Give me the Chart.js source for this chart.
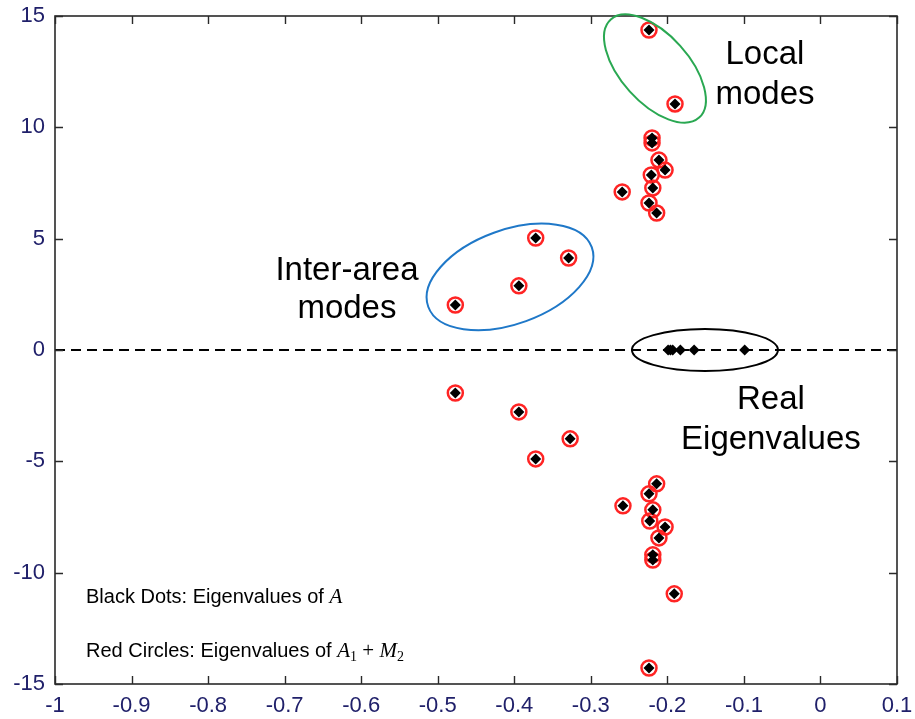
<!DOCTYPE html>
<html>
<head>
<meta charset="utf-8">
<script src="https://cdn.jsdelivr.net/npm/chart.js@4.4.1/dist/chart.umd.min.js"></script>
<style>
  html, body { margin: 0; padding: 0; background: #fff; }
  canvas { display: block; }
</style>
</head>
<body>
<canvas id="eigChart" width="915" height="719"></canvas>
<script>
// Complex eigenvalues (shared by A and A1 + M2): real and imaginary parts
const complexRe = [-0.224, -0.190, -0.220, -0.220, -0.211, -0.203, -0.221, -0.219, -0.259, -0.224, -0.214,
                   -0.372, -0.329, -0.394, -0.477,
                   -0.477, -0.394, -0.327, -0.372,
                   -0.214, -0.224, -0.258, -0.219, -0.223, -0.203, -0.211, -0.219, -0.219, -0.191, -0.224];
const complexIm = [14.37, 11.05, 9.52, 9.30, 8.53, 8.08, 7.86, 7.28, 7.10, 6.60, 6.15,
                   5.03, 4.13, 2.88, 2.02,
                   -1.93, -2.78, -3.99, -4.89,
                   -6.01, -6.46, -7.00, -7.18, -7.68, -7.95, -8.44, -9.20, -9.43, -10.95, -14.28];

// Purely real eigenvalues of A (only black dots)
const realRe = [-0.199, -0.196, -0.193, -0.183, -0.165, -0.099];
const realIm = [0, 0, 0, 0, 0, 0];

// Axis ticks
const xTicks = [-1, -0.9, -0.8, -0.7, -0.6, -0.5, -0.4, -0.3, -0.2, -0.1, 0, 0.1];
const yTicks = [-15, -10, -5, 0, 5, 10, 15];

// Dashed zero line
const zeroLineX = [-1, 0.1];
const zeroLineY = [0, 0];

function toPoints(xs, ys) {
    return xs.map((x, i) => ({ x: x, y: ys[i] }));
}

// Ellipses drawn around groups of modes (center in data units, radii in px)
const ellipses = [
    { x: -0.2162, y: 12.64, rx: 66, ry: 34, angle: 48, color: '#2aa852' },
    { x: -0.4056, y: 3.28, rx: 87, ry: 47, angle: -20, color: '#1f78c8' },
    { x: -0.1509, y: 0, rx: 73, ry: 21, angle: 0, color: '#000000' }
];

// Big labels inside the plot
const labels = [
    { text: 'Local', x: -0.0725, y: 12.84 },
    { text: 'modes', x: -0.0725, y: 11.05 },
    { text: 'Inter-area', x: -0.6186, y: 3.15 },
    { text: 'modes', x: -0.6186, y: 1.44 },
    { text: 'Real', x: -0.0647, y: -2.65 },
    { text: 'Eigenvalues', x: -0.0647, y: -4.44 }
];

const TEXT_FONT = '"Liberation Sans", Arial, sans-serif';
const MATH_FONT = '"Liberation Serif", "Times New Roman", serif';

// Draws a run of [text, style] pieces left to right from (x, y)
function drawRuns(ctx, x, y, runs) {
    runs.forEach(r => {
        ctx.font = r.font;
        ctx.fillText(r.text, x, y + (r.dy || 0));
        x += ctx.measureText(r.text).width;
    });
}

const annotations = {
    id: 'annotations',
    afterDatasetsDraw(chart) {
        const ctx = chart.ctx;
        const xs = chart.scales.x, ys = chart.scales.y;
        const a = chart.chartArea;
        ctx.save();

        // frame
        ctx.strokeStyle = '#2a2a2a';
        ctx.lineWidth = 1.6;
        ctx.strokeRect(a.left, a.top, a.right - a.left, a.bottom - a.top);

        // inward ticks on all four sides
        ctx.lineWidth = 1.4;
        ctx.beginPath();
        xTicks.forEach(v => {
            const p = Math.round(xs.getPixelForValue(v)) + 0.5;
            ctx.moveTo(p, a.bottom); ctx.lineTo(p, a.bottom - 8);
            ctx.moveTo(p, a.top); ctx.lineTo(p, a.top + 8);
        });
        yTicks.forEach(v => {
            const p = Math.round(ys.getPixelForValue(v)) + 0.5;
            ctx.moveTo(a.left, p); ctx.lineTo(a.left + 8, p);
            ctx.moveTo(a.right, p); ctx.lineTo(a.right - 8, p);
        });
        ctx.stroke();

        // ellipses
        ctx.lineWidth = 2;
        ellipses.forEach(e => {
            ctx.strokeStyle = e.color;
            ctx.beginPath();
            ctx.ellipse(xs.getPixelForValue(e.x), ys.getPixelForValue(e.y), e.rx, e.ry,
                e.angle * Math.PI / 180, 0, Math.PI * 2);
            ctx.stroke();
        });

        // labels
        ctx.fillStyle = '#000';
        ctx.textAlign = 'center';
        ctx.textBaseline = 'alphabetic';
        ctx.font = '33px ' + TEXT_FONT;
        labels.forEach(l => {
            ctx.fillText(l.text, xs.getPixelForValue(l.x), ys.getPixelForValue(l.y));
        });

        // legend notes
        ctx.textAlign = 'left';
        const lx = xs.getPixelForValue(-0.9595);
        const body = '20px ' + TEXT_FONT;
        const math = 'italic 21px ' + MATH_FONT;
        const sub = '14px ' + MATH_FONT;
        drawRuns(ctx, lx, ys.getPixelForValue(-11.36), [
            { text: 'Black Dots: Eigenvalues of ', font: body },
            { text: 'A', font: math }
        ]);
        drawRuns(ctx, lx, ys.getPixelForValue(-13.78), [
            { text: 'Red Circles: Eigenvalues of ', font: body },
            { text: 'A', font: math },
            { text: '1', font: sub, dy: 4 },
            { text: ' + ', font: '21px ' + MATH_FONT },
            { text: 'M', font: math },
            { text: '2', font: sub, dy: 4 }
        ]);
        ctx.restore();
    }
};

const tickFont = { family: TEXT_FONT, size: 22 };
const tickColor = '#20206a';

new Chart(document.getElementById('eigChart'), {
    type: 'scatter',
    data: {
        datasets: [
            {
                label: 'Eigenvalues of A',
                data: toPoints(complexRe.concat(realRe), complexIm.concat(realIm)),
                pointStyle: 'rectRot',
                pointRadius: 5.5,
                backgroundColor: '#000',
                borderColor: '#000',
                borderWidth: 0,
                order: 0
            },
            {
                label: 'Eigenvalues of A1 + M2',
                data: toPoints(complexRe, complexIm),
                pointStyle: 'circle',
                pointRadius: 7.5,
                backgroundColor: 'rgba(255,255,255,0)',
                borderColor: '#ff2424',
                borderWidth: 2.5,
                order: 1
            },
            {
                type: 'line',
                label: 'zero',
                data: toPoints(zeroLineX, zeroLineY),
                borderColor: '#000',
                borderWidth: 2,
                borderDash: [10, 6],
                pointRadius: 0,
                fill: false,
                order: 2
            }
        ]
    },
    options: {
        responsive: false,
        devicePixelRatio: 1,
        animation: false,
        layout: {
            padding: { top: 16, right: 18, left: 0, bottom: 0 }
        },
        scales: {
            x: {
                type: 'linear',
                min: -1,
                max: 0.1,
                afterBuildTicks: s => { s.ticks = xTicks.map(v => ({ value: v })); },
                afterFit: s => {
                    s.height = 35;
                    s.paddingLeft = 0;
                    s.paddingRight = 0;
                },
                grid: { display: false, drawTicks: false },
                border: { display: false },
                ticks: {
                    font: tickFont,
                    color: tickColor,
                    padding: 9,
                    maxRotation: 0,
                    autoSkip: false,
                    callback: v => String(Number(v.toFixed(1)))
                }
            },
            y: {
                type: 'linear',
                min: -15,
                max: 15,
                afterBuildTicks: s => { s.ticks = yTicks.map(v => ({ value: v })); },
                afterFit: s => {
                    s.width = 55;
                    s.paddingTop = 0;
                    s.paddingBottom = 0;
                },
                grid: { display: false, drawTicks: false },
                border: { display: false },
                ticks: {
                    font: tickFont,
                    color: tickColor,
                    padding: 10,
                    autoSkip: false,
                    callback: v => String(v)
                }
            }
        },
        plugins: {
            legend: { display: false },
            tooltip: { enabled: false }
        }
    },
    plugins: [annotations]
});
</script>
</body>
</html>
